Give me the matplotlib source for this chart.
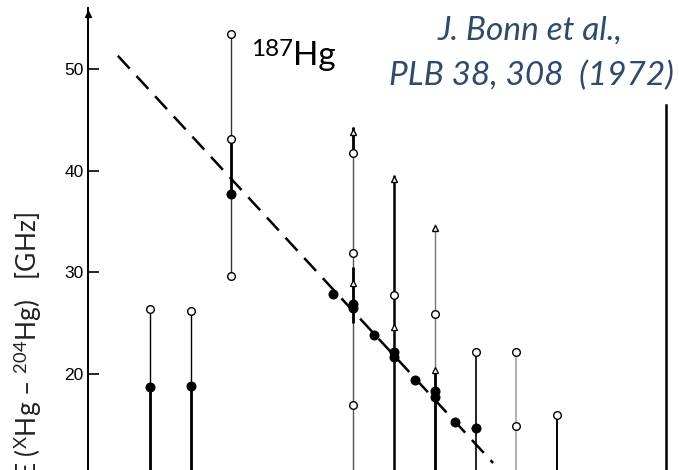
import numpy as np
import matplotlib.pyplot as plt

plt.rcParams["mathtext.fontset"] = "custom"
plt.rcParams["mathtext.rm"] = "Lato"
plt.rcParams["mathtext.it"] = "Lato:italic"

# Isotope positions (mass number) and measured shifts E(XHg - 204Hg) in GHz
bar_A = [185, 186, 187, 190, 191, 192, 193, 194, 195]
bar_top = [26.4, 26.2, 53.4, 44.3, 39.6, 34.8, 22.2, 22.2, 16.0]
bar_bot = [0, 0, 29.6, 0, 0, 0, 0, 0, 0]

# heavier stretches of the error bars (lower, upper)
thick_A = [185, 186, 187, 190, 190, 192]
thick_lo = [0, 0, 37.7, 41.7, 25.0, 0]
thick_hi = [18.7, 18.8, 43.1, 44.3, 30.5, 20.4]

open_A = [185, 186, 187, 187, 187, 190, 190, 190, 191, 192, 193, 194, 194, 195]
open_E = [26.4, 26.2, 53.4, 43.1, 29.6, 41.7, 31.9, 17.0, 27.8, 25.9, 22.2, 22.2, 14.9, 16.0]

tri_A = [190, 191, 192]
tri_E = [29.0, 24.6, 20.4]

# lower limits drawn as arrow heads
arrow_A = [190, 191, 192]
arrow_E = [44.3, 39.6, 34.8]

full_A = [185, 186, 187, 189.5, 190, 190, 190.5, 191, 191, 191.5, 192, 192, 192.5, 193]
full_E = [18.7, 18.8, 37.7, 27.9, 26.9, 26.5, 23.8, 22.2, 21.7, 19.4, 18.3, 17.7, 15.3, 14.7]

fit_A = [184.21, 193.43]
fit_E = [51.3, 11.25]

yticks = [20, 30, 40, 50]

bar_colors = ["black", "black", "#333333", "#555555", "black", "#777777", "black", "#aaaaaa", "black"]
bar_widths = [1.0, 1.0, 1.0, 1.0, 1.8, 1.0, 1.2, 1.3, 1.4]

fig = plt.figure(figsize=(6.79, 4.70), dpi=100)
ax = fig.add_axes([88 / 679, 0, (666 - 88) / 679, 1 - 8 / 470])
ax.set_xlim(183.477, 197.678)
ax.set_ylim(10.56, 56.0)

# error bars
ax.vlines(bar_A, bar_bot, bar_top, colors=bar_colors, linewidths=bar_widths, zorder=2)
ax.vlines(thick_A, thick_lo, thick_hi, colors="black", linewidths=2.0, zorder=2)

# fitted trend
ax.plot(fit_A, fit_E, color="black", lw=1.8, dashes=(7, 4), zorder=3)

ax.plot(arrow_A, np.array(arrow_E) - 0.45, ls="none", marker="^", ms=5,
        mfc="white", mec="black", mew=1.0, zorder=4)
ax.plot(tri_A, tri_E, ls="none", marker="^", ms=5,
        mfc="white", mec="black", mew=0.9, zorder=4)
ax.plot(open_A, open_E, ls="none", marker="o", ms=5.5,
        mfc="white", mec="black", mew=1.0, zorder=5)
ax.plot(full_A, full_E, ls="none", marker="o", ms=6.2,
        mfc="black", mec="black", zorder=5)

# axes frame: left axis with arrow, partial right border
for side in ["top", "bottom"]:
    ax.spines[side].set_visible(False)
ax.spines["left"].set_linewidth(1.4)
ax.spines["right"].set_linewidth(1.8)
ax.spines["right"].set_bounds(10.56, 46.46)
ax.plot([183.477], [55.4], marker="^", ms=5, color="black", clip_on=False, zorder=6)

ax.set_xticks([])
ax.set_yticks(yticks)
ax.tick_params(axis="y", direction="in", length=8, width=1.2, pad=3,
               labelsize=12.5, right=False)
for lab in ax.get_yticklabels():
    lab.set_fontfamily("Liberation Sans")

fig.text(28 / 679, 1 - 212 / 470, r"E ($^{\mathrm{X}}$Hg – $^{204}$Hg)   [GHz]",
         rotation=90, ha="center", va="top", fontsize=19, family="Lato", color="#222222")

fig.text(251 / 679, 1 - 56 / 470, "187", ha="left", va="baseline",
         fontsize=17.5, family="Lato", color="black")
fig.text(293 / 679, 1 - 65 / 470, "Hg", ha="left", va="baseline",
         fontsize=24, family="Lato", color="black")

cite = "#2E4A6E"
fig.text(530 / 679, 1 - 40 / 470, "J. Bonn et al.,", ha="center", va="baseline",
         fontsize=24, family="Lato", style="italic", color=cite)
fig.text(531 / 679, 1 - 85 / 470, "PLB 38, 308  (1972)", ha="center", va="baseline",
         fontsize=24, family="Lato", style="italic", color=cite)

fig.savefig("out.png", dpi=100)
